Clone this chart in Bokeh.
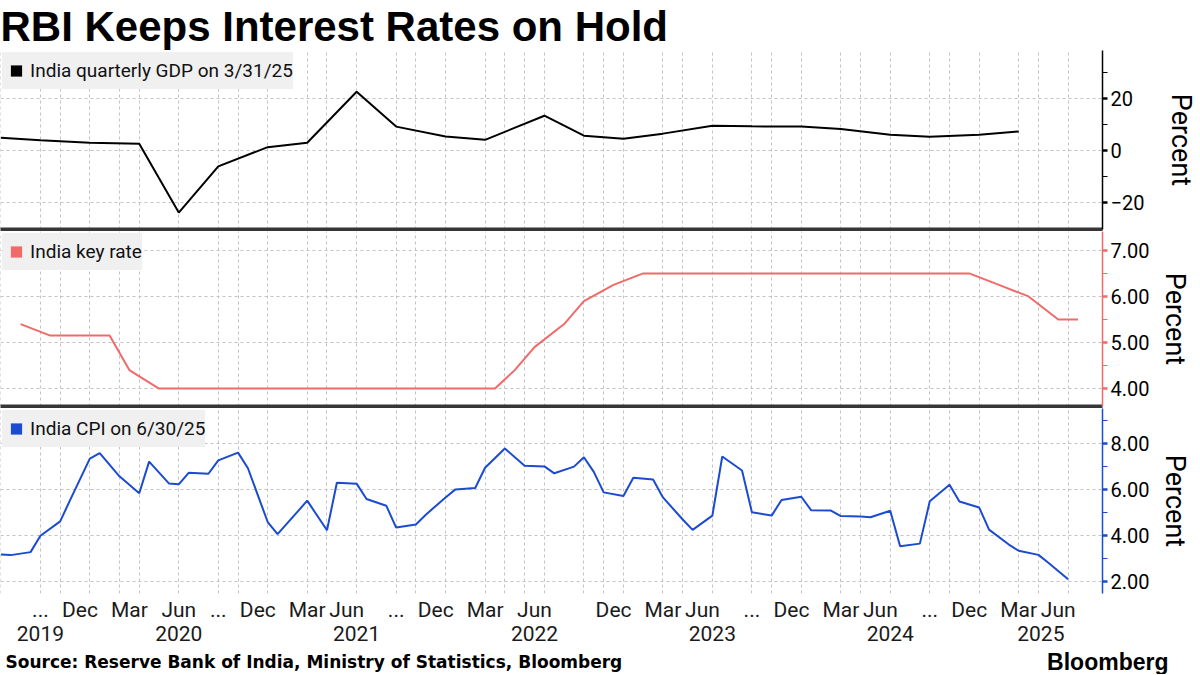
import pandas as pd
from bokeh.plotting import figure
from bokeh.models import (FixedTicker, LinearAxis, Grid, Legend, LegendItem, Range1d,
                          NumeralTickFormatter, BasicTickFormatter, Label)
from bokeh.layouts import column
from bokeh.embed import file_html
from bokeh.resources import INLINE

# ---------------- data ----------------
title_text = "RBI Keeps Interest Rates on Hold"
source_text = "Source: Reserve Bank of India, Ministry of Statistics, Bloomberg"
brand_text = "Bloomberg"
axis_title = "Percent"

gdp_label = "India quarterly GDP on 3/31/25"
gdp_dates = ["2019-06-30", "2019-09-30", "2019-12-31", "2020-03-31", "2020-06-30", "2020-09-30",
             "2020-12-31", "2021-03-31", "2021-06-30", "2021-09-30", "2021-12-31", "2022-03-31",
             "2022-06-30", "2022-09-30", "2022-12-31", "2023-03-31", "2023-06-30", "2023-09-30",
             "2023-12-31", "2024-03-31", "2024-06-30", "2024-09-30", "2024-12-31", "2025-03-31"]
gdp_values = [5.0, 4.1, 3.1, 2.7, -23.8, -6.0, 1.4, 3.1, 22.7, 9.3, 5.5, 4.2,
              13.5, 5.8, 4.6, 6.6, 9.6, 9.4, 9.3, 8.4, 6.2, 5.4, 6.2, 7.4]

rate_label = "India key rate"
rate_dates = ["2019-08-07", "2019-10-04", "2019-12-05",
              "2020-02-06", "2020-03-27", "2020-05-22", "2020-08-06", "2020-10-09", "2020-12-04",
              "2021-02-05", "2021-04-07", "2021-06-04", "2021-08-06", "2021-10-08", "2021-12-08",
              "2022-02-10", "2022-04-08", "2022-05-04", "2022-06-08", "2022-08-05", "2022-09-30", "2022-12-07",
              "2023-02-08", "2023-04-06", "2023-06-08", "2023-08-10", "2023-10-06", "2023-12-08",
              "2024-02-08", "2024-04-05", "2024-06-07", "2024-08-08", "2024-10-09", "2024-12-06",
              "2025-02-07", "2025-04-09", "2025-06-06", "2025-08-06"]
rate_values = [5.40, 5.15, 5.15,
               5.15, 4.40, 4.00, 4.00, 4.00, 4.00,
               4.00, 4.00, 4.00, 4.00, 4.00, 4.00,
               4.00, 4.00, 4.40, 4.90, 5.40, 5.90, 6.25,
               6.50, 6.50, 6.50, 6.50, 6.50, 6.50,
               6.50, 6.50, 6.50, 6.50, 6.50, 6.50,
               6.25, 6.00, 5.50, 5.50]

cpi_label = "India CPI on 6/30/25"
cpi_first_month = "2019-06"
cpi_last_month = "2025-06"
cpi_values = [3.18, 3.15, 3.28, 3.99, 4.62, 5.54, 7.35,
              7.59, 6.58, 5.84, 7.22, 6.27, 6.23, 6.73, 6.69, 7.27, 7.61, 6.93, 4.59,
              4.06, 5.03, 5.52, 4.23, 6.30, 6.26, 5.59, 5.30, 4.35, 4.48, 4.91, 5.66,
              6.01, 6.07, 6.95, 7.79, 7.04, 7.01, 6.71, 7.00, 7.41, 6.77, 5.88, 5.72,
              6.52, 6.44, 5.66, 4.70, 4.25, 4.87, 7.44, 6.83, 5.02, 4.87, 5.55, 5.69,
              5.10, 5.09, 4.85, 4.83, 4.80, 5.08, 3.54, 3.65, 5.49, 6.21, 5.48, 5.22,
              4.26, 3.61, 3.34, 3.16, 2.82, 2.10]

month_tick_dates = ["2019-09-30", "2019-12-05", "2020-03-27", "2020-06-30", "2020-09-30", "2020-12-04",
                    "2021-03-31", "2021-06-04", "2021-09-30", "2021-12-08", "2022-03-31", "2022-06-08",
                    "2022-12-07", "2023-03-31", "2023-06-08", "2023-09-30", "2023-12-08", "2024-03-31",
                    "2024-06-07", "2024-09-30", "2024-12-06", "2025-03-31", "2025-06-06"]
month_tick_labels = ["...", "Dec", "Mar", "Jun", "...", "Dec", "Mar", "Jun", "...", "Dec", "Mar", "Jun",
                     "Dec", "Mar", "Jun", "...", "Dec", "Mar", "Jun", "...", "Dec", "Mar", "Jun"]
year_labels = ["2019", "2020", "2021", "2022", "2023", "2024", "2025"]
grid_extra_dates = ["2019-10-31", "2020-02-29", "2020-10-31", "2021-04-30", "2021-10-31", "2022-04-30",
                    "2022-05-31", "2022-11-30", "2023-04-30", "2023-10-31", "2024-04-30", "2024-10-31",
                    "2025-04-30"]

gdp_ticks, gdp_minor = [-20, 0, 20], [-10, 10, 30]
rate_ticks, rate_minor = [4, 5, 6, 7], [4.5, 5.5, 6.5]
cpi_ticks, cpi_minor = [2, 4, 6, 8], [3, 5, 7, 9]

# ---------------- styling ----------------
FONT = "Roboto"
HEAD_FONT = "Liberation Sans"
SOURCE_FONT = "DejaVu Sans"
GDP_COLOR = "#000000"
RATE_COLOR = "#f06a6a"
CPI_COLOR = "#1a4bd0"
GRID_COLOR = "#c2c2c2"
BAND_COLOR = "#363636"
W = 1200

# ---------------- ordinal date axis (union of all observation dates) ----------------
def ts(d):
    return pd.Timestamp(d).normalize()

cpi_dates = [p.end_time.normalize() for p in pd.period_range(cpi_first_month, cpi_last_month, freq="M")]
all_dates = sorted(set(map(ts, gdp_dates)) | set(map(ts, rate_dates)) | set(cpi_dates))
pos = {d: i for i, d in enumerate(all_dates)}

def xs(dates):
    return [pos[ts(d)] for d in dates]

x_lo, x_hi = -0.04, 111.48

year_pos = []
for y in year_labels:
    ii = [i for i, d in enumerate(all_dates) if d.year == int(y)]
    first, last = ii[0], ii[-1]
    if last == len(all_dates) - 1:
        last = x_hi
    year_pos.append(round((first + last) / 2 - 0.5, 2))

grid_x = sorted(set([pos[d] for d in cpi_dates if d.month in (3, 6, 9, 12)] + xs(grid_extra_dates)))


def make_panel(height, y_lo, y_hi, top, bottom, color, majors, minors, fmt, label_standoff):
    p = figure(width=W, height=height, x_range=Range1d(x_lo, x_hi), y_range=Range1d(y_lo, y_hi),
               x_axis_type=None, y_axis_location="right", toolbar_location=None,
               output_backend="svg", min_border_left=0, min_border_right=98,
               min_border_top=top, min_border_bottom=bottom)
    p.outline_line_color = None
    p.background_fill_color = "white"
    p.border_fill_color = "white"
    ax = p.yaxis[0]
    ax.ticker = FixedTicker(ticks=majors, minor_ticks=minors)
    ax.formatter = fmt
    ax.axis_line_color = color
    ax.axis_line_width = 1.5
    ax.major_tick_line_color = color
    ax.major_tick_line_width = 2.5
    ax.major_tick_out = 5
    ax.major_tick_in = 0
    ax.minor_tick_line_color = color
    ax.minor_tick_line_width = 1
    ax.minor_tick_out = 5
    ax.minor_tick_in = 0
    ax.major_label_text_font = FONT
    ax.major_label_text_font_size = "20px"
    ax.major_label_text_color = "#000000"
    ax.major_label_standoff = 3
    ax.axis_label = axis_title
    ax.axis_label_text_font = FONT
    ax.axis_label_text_font_size = "27px"
    ax.axis_label_text_font_style = "normal"
    ax.axis_label_text_color = "#000000"
    ax.axis_label_standoff = label_standoff
    p.ygrid.grid_line_color = GRID_COLOR
    p.ygrid.grid_line_dash = "3 3"
    p.ygrid.grid_line_width = 1
    vgrid = Grid(dimension=0, ticker=FixedTicker(ticks=grid_x), grid_line_color=GRID_COLOR,
                 grid_line_dash="3 3", grid_line_width=1)
    p.add_layout(vgrid)
    return p


def add_legend(p, label, color, x0, y0):
    # size-0 square marker on the series' first point: only its legend swatch is visible
    sw = p.scatter(x=[x0], y=[y0], marker="square", size=0, fill_color=color, line_color=None)
    lg = Legend(items=[LegendItem(label=label, renderers=[sw])], location="top_left",
                label_text_font=FONT, label_text_font_size="19px", label_text_color="#111111",
                glyph_width=28, glyph_height=37, label_standoff=0, label_height=37,
                padding=0, spacing=0, margin=2,
                background_fill_color="#f0f0f0", background_fill_alpha=1.0, border_line_color=None)
    p.add_layout(lg)


def add_band(p):
    band = LinearAxis(ticker=FixedTicker(ticks=[]), axis_line_color=BAND_COLOR, axis_line_width=4,
                      major_tick_line_color=None, minor_tick_line_color=None,
                      major_tick_out=0, minor_tick_out=0, major_label_text_font_size="0px")
    p.add_layout(band, "below")


# ---- panel 1 : GDP ----
p1 = make_panel(231, -30.3, 38.6, 50, 2, GDP_COLOR, gdp_ticks, gdp_minor,
                BasicTickFormatter(), 18)
p1.title.text = title_text
p1.title.text_font = HEAD_FONT
p1.title.text_font_size = "42px"
p1.title.text_font_style = "bold"
p1.title.text_color = "#000000"
p1.title.align = "left"
p1.title.standoff = 1
p1.line(x=xs(gdp_dates), y=gdp_values, line_color=GDP_COLOR, line_width=2)
add_legend(p1, gdp_label, GDP_COLOR, xs(gdp_dates)[0], gdp_values[0])
add_band(p1)

# ---- panel 2 : key rate ----
p2 = make_panel(177, 3.61, 7.41, 0, 2, RATE_COLOR, rate_ticks, rate_minor,
                NumeralTickFormatter(format="0.00"), 7)
p2.line(x=xs(rate_dates), y=rate_values, line_color=RATE_COLOR, line_width=2)
add_legend(p2, rate_label, RATE_COLOR, xs(rate_dates)[0], rate_values[0])
add_band(p2)

# ---- panel 3 : CPI ----
p3 = make_panel(240, 1.48, 9.53, 0, 55, CPI_COLOR, cpi_ticks, cpi_minor,
                NumeralTickFormatter(format="0.00"), 7)
cpi_x = [pos[d] for d in cpi_dates]
p3.line(x=cpi_x, y=cpi_values, line_color=CPI_COLOR, line_width=2)
add_legend(p3, cpi_label, CPI_COLOR, cpi_x[0], cpi_values[0])

month_idx = xs(month_tick_dates)
month_axis = LinearAxis(ticker=FixedTicker(ticks=month_idx),
                        major_label_overrides=dict(zip(month_idx, month_tick_labels)),
                        axis_line_color=None, major_tick_line_color=None, minor_tick_line_color=None,
                        major_tick_out=0, minor_tick_out=0, major_label_standoff=4,
                        major_label_text_font=FONT, major_label_text_font_size="21px",
                        major_label_text_color="#1a1a1a")
p3.add_layout(month_axis, "below")
year_axis = LinearAxis(ticker=FixedTicker(ticks=year_pos),
                       major_label_overrides=dict(zip(year_pos, year_labels)),
                       axis_line_color=None, major_tick_line_color=None, minor_tick_line_color=None,
                       major_tick_out=0, minor_tick_out=0, major_label_standoff=1,
                       major_label_text_font=FONT, major_label_text_font_size="21px",
                       major_label_text_color="#1a1a1a")
p3.add_layout(year_axis, "below")

# ---- footer ----
FH = 26
pf = figure(width=W, height=FH, x_range=Range1d(0, W), y_range=Range1d(0, FH),
            x_axis_type=None, y_axis_type=None, toolbar_location=None, output_backend="svg",
            min_border=0)
pf.frame_align = False
pf.outline_line_color = None
pf.grid.visible = False
pf.add_layout(Label(x=5, y=FH / 2, text=source_text, text_align="left", text_baseline="middle",
                    text_font=SOURCE_FONT, text_font_size="17px", text_font_style="bold",
                    text_color="#000000"))
pf.add_layout(Label(x=1168, y=FH / 2, text=brand_text, text_align="right",
                    text_baseline="middle", text_font=HEAD_FONT, text_font_size="23px",
                    text_font_style="bold", text_color="#000000"))

layout = column(p1, p2, p3, pf, spacing=0)
open("out.html", "w").write(file_html(layout, INLINE))
